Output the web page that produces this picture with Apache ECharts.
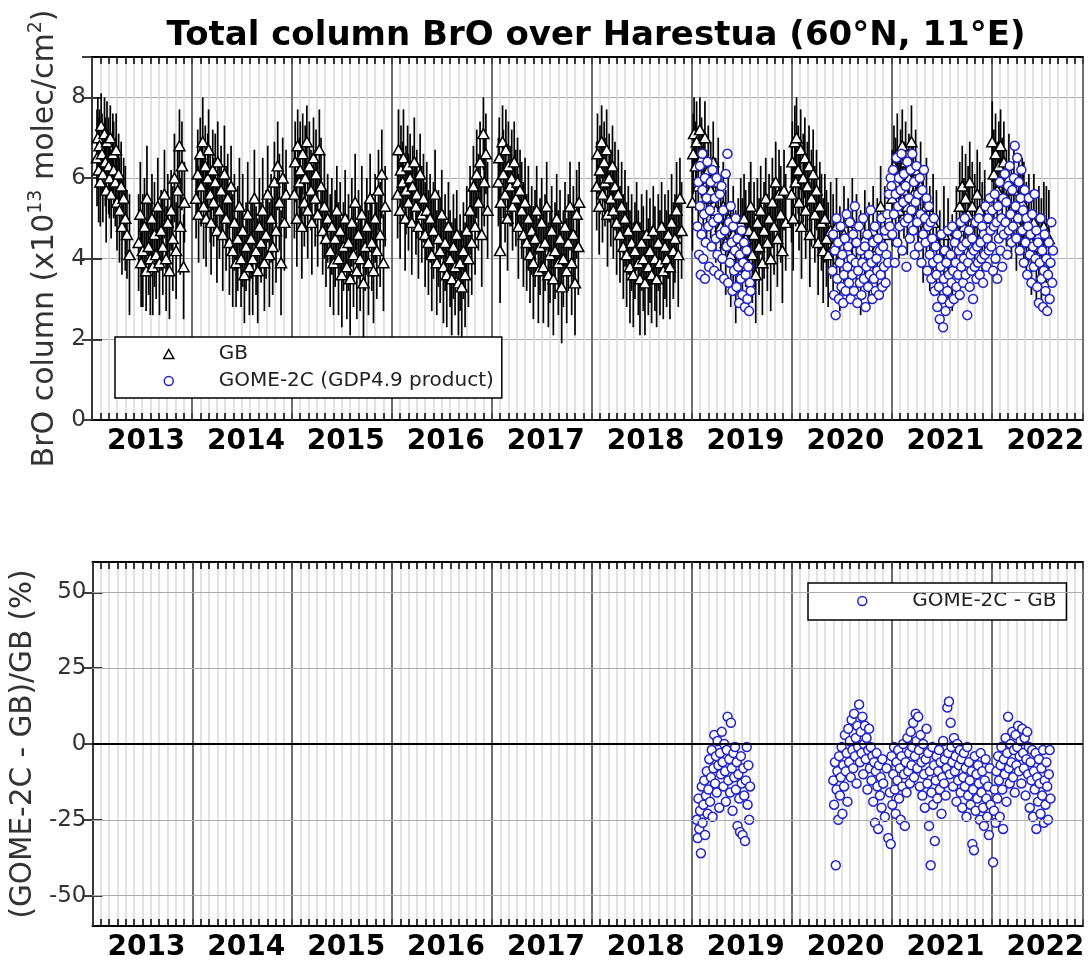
<!DOCTYPE html>
<html><head><meta charset="utf-8">
<script src="https://cdn.jsdelivr.net/npm/echarts@6/dist/echarts.min.js"></script>
<style>html,body{margin:0;padding:0;background:#fff}#c{width:1088px;height:965px}</style>
</head><body><div id="c"></div><script>
// x values: month within year (0-12); GB triplets: month, value, error
const yearLabels = [2013,2014,2015,2016,2017,2018,2019,2020,2021,2022];
const gb2013 = [0.6,6.5,1.2, 0.7,7.0,1.0, 0.8,6.2,1.3, 0.9,6.8,0.9, 1.0,5.9,1.1, 1.1,7.3,0.8, 1.2,6.6,1.0, 1.3,6.1,1.2, 1.5,7.1,0.9, 1.6,6.4,1.1, 1.7,5.7,1.3, 1.8,6.9,1.0, 2.0,6.3,1.2, 2.1,6.0,1.0, 2.2,7.0,0.8, 2.3,5.6,1.1, 2.5,6.6,1.0, 2.6,6.2,1.2, 2.8,5.9,1.1, 2.9,6.7,0.9, 3.0,5.4,1.2, 3.2,6.1,1.0, 3.3,5.2,1.3, 3.5,5.8,1.1, 3.6,4.8,1.2, 3.8,5.5,1.0, 4.0,5.0,1.3, 4.2,4.6,1.1, 4.5,4.1,1.5, 5.6,4.4,1.2, 5.8,5.1,1.3, 5.9,3.9,1.1, 6.1,4.2,1.4, 6.3,4.8,1.2, 6.5,3.7,1.0, 6.6,5.5,1.3, 6.8,4.3,1.2, 7.0,4.0,1.4, 7.2,5.0,1.1, 7.3,3.8,1.2, 7.5,4.6,1.3, 7.7,4.1,1.1, 7.9,5.3,1.2, 8.1,3.9,1.3, 8.3,4.7,1.0, 8.5,4.3,1.2, 8.7,5.6,1.1, 8.9,4.0,1.3, 9.1,4.9,1.2, 9.3,3.7,1.2, 9.5,5.2,1.0, 9.7,4.5,1.3, 9.9,6.0,1.1, 10.1,4.2,1.2, 10.3,5.7,1.0, 10.5,6.8,0.9, 10.6,4.8,1.2, 10.8,6.3,1.1, 11.0,3.8,1.3, 11.1,5.4,1.0];
const gb2014 = [0.5,5.5,1.0, 0.7,6.1,1.1, 0.8,5.1,1.2, 1.0,6.6,0.9, 1.1,5.8,1.0, 1.3,6.9,1.1, 1.4,5.3,1.3, 1.6,6.3,1.0, 1.7,5.0,1.2, 1.9,6.0,1.1, 2.0,6.7,1.0, 2.2,5.6,1.2, 2.3,4.9,1.3, 2.5,6.2,1.0, 2.6,5.4,1.1, 2.8,5.9,1.2, 3.0,4.7,1.3, 3.1,6.4,1.0, 3.3,5.2,1.2, 3.5,5.7,1.1, 3.7,4.6,1.4, 3.9,6.1,1.2, 4.1,5.0,1.3, 4.3,5.5,1.1, 4.5,4.4,1.3, 4.7,5.8,1.0, 4.9,4.2,1.4, 5.1,4.9,1.2, 5.3,3.9,1.1, 5.5,4.5,1.3, 5.7,5.3,1.2, 5.9,4.0,1.2, 6.1,4.7,1.4, 6.3,3.6,1.2, 6.5,4.3,1.1, 6.7,5.1,1.3, 6.9,3.8,1.2, 7.1,4.5,1.0, 7.3,4.0,1.4, 7.5,5.5,1.2, 7.7,4.2,1.1, 7.9,3.7,1.3, 8.1,4.8,1.2, 8.3,4.4,1.0, 8.5,5.2,1.3, 8.7,3.9,1.2, 8.9,4.6,1.1, 9.1,5.6,1.2, 9.3,4.1,1.3, 9.5,5.0,1.1, 9.7,4.3,1.2, 9.9,5.9,1.0, 10.1,4.7,1.3, 10.3,6.3,1.1, 10.5,5.4,1.2, 10.7,3.9,1.3, 10.9,6.0,1.0, 11.1,4.9,1.2, 11.3,5.6,1.1];
const gb2015 = [0.3,5.6,1.1, 0.4,6.4,1.0, 0.6,5.0,1.2, 0.7,6.8,0.9, 0.9,5.9,1.1, 1.0,6.2,1.2, 1.2,4.8,1.3, 1.3,6.6,1.0, 1.5,5.4,1.1, 1.6,6.0,1.3, 1.8,6.9,0.9, 1.9,5.2,1.2, 2.1,6.3,1.1, 2.3,5.7,1.0, 2.4,4.9,1.3, 2.6,6.5,1.0, 2.8,5.5,1.2, 2.9,6.1,1.1, 3.1,5.1,1.3, 3.3,6.7,1.0, 3.5,5.8,1.2, 3.7,4.7,1.1, 3.9,5.3,1.3, 4.1,4.5,1.2, 4.3,5.0,1.1, 4.6,4.2,1.4, 4.8,4.8,1.2, 5.0,3.9,1.3, 5.2,4.5,1.2, 5.4,5.2,1.1, 5.6,4.0,1.4, 5.8,4.7,1.2, 6.0,3.6,1.3, 6.2,4.3,1.1, 6.4,5.0,1.2, 6.6,3.8,1.3, 6.8,4.4,1.2, 7.0,3.5,1.4, 7.2,4.9,1.1, 7.4,4.1,1.3, 7.6,5.4,1.2, 7.8,3.7,1.2, 8.0,4.6,1.1, 8.2,4.0,1.3, 8.4,5.1,1.2, 8.6,3.4,1.4, 8.8,4.3,1.1, 9.0,4.8,1.2, 9.2,3.9,1.3, 9.4,5.5,1.1, 9.6,4.4,1.2, 9.8,3.7,1.3, 10.0,5.0,1.1, 10.2,4.2,1.2, 10.4,5.7,1.0, 10.6,4.6,1.3, 10.8,6.1,1.1, 11.0,3.9,1.2, 11.2,5.3,1.0];
const gb2016 = [0.7,5.6,1.1, 0.8,6.7,1.0, 1.0,5.2,1.2, 1.1,6.2,1.1, 1.3,5.9,1.0, 1.4,6.5,1.2, 1.6,5.0,1.3, 1.7,5.7,1.1, 1.9,6.3,1.0, 2.0,5.4,1.2, 2.2,6.0,1.1, 2.4,4.9,1.3, 2.5,5.8,1.0, 2.7,6.4,1.1, 2.9,5.3,1.2, 3.0,5.6,1.1, 3.2,4.8,1.3, 3.4,6.1,1.0, 3.6,5.1,1.2, 3.8,5.5,1.1, 4.0,4.6,1.3, 4.2,5.2,1.2, 4.4,4.4,1.3, 4.6,5.0,1.1, 4.8,4.1,1.4, 5.0,4.7,1.2, 5.2,5.6,1.1, 5.4,3.9,1.3, 5.6,4.5,1.2, 5.8,4.2,1.3, 6.0,5.1,1.1, 6.2,3.8,1.4, 6.4,4.4,1.2, 6.6,3.6,1.3, 6.8,4.8,1.1, 7.0,4.0,1.2, 7.2,3.5,1.4, 7.4,4.3,1.3, 7.6,3.8,1.2, 7.8,4.6,1.1, 8.0,3.4,1.3, 8.2,3.9,1.2, 8.4,3.3,1.4, 8.6,4.2,1.2, 8.8,3.6,1.3, 9.0,4.7,1.1, 9.2,4.0,1.2, 9.4,5.2,1.1, 9.6,4.4,1.3, 9.8,5.8,1.0, 10.0,4.8,1.2, 10.2,6.1,1.1, 10.4,5.4,1.2, 10.6,6.4,1.0, 10.8,4.6,1.3, 11.0,7.1,0.9, 11.1,5.9,1.1, 11.3,6.6,1.0, 11.5,5.2,1.2];
const gb2017 = [0.8,5.9,1.1, 0.9,6.5,1.0, 1.0,4.2,1.3, 1.1,5.4,1.2, 1.3,6.9,0.9, 1.4,6.1,1.1, 1.6,5.6,1.2, 1.7,6.7,1.0, 1.9,5.0,1.3, 2.0,6.3,1.1, 2.2,5.8,1.0, 2.4,6.0,1.2, 2.5,5.3,1.1, 2.7,6.4,1.0, 2.9,5.5,1.2, 3.1,5.9,1.1, 3.2,4.8,1.3, 3.4,5.7,1.0, 3.6,5.2,1.2, 3.8,4.6,1.3, 4.0,5.4,1.1, 4.2,4.4,1.2, 4.4,5.0,1.3, 4.6,4.1,1.2, 4.8,4.7,1.1, 5.0,3.9,1.4, 5.2,4.5,1.2, 5.4,5.2,1.1, 5.6,3.7,1.3, 5.8,4.3,1.2, 6.0,4.9,1.1, 6.2,3.8,1.4, 6.4,4.4,1.2, 6.6,5.3,1.1, 6.8,3.6,1.3, 7.0,4.1,1.2, 7.2,4.7,1.1, 7.4,3.5,1.4, 7.6,4.2,1.2, 7.8,5.0,1.1, 8.0,3.9,1.3, 8.2,4.5,1.2, 8.4,3.3,1.4, 8.6,4.0,1.2, 8.8,4.8,1.1, 9.0,3.7,1.3, 9.2,4.4,1.2, 9.4,5.3,1.1, 9.6,3.9,1.3, 9.8,4.6,1.2, 10.0,3.4,1.3, 10.2,5.1,1.1, 10.4,4.3,1.2, 10.5,5.4,1.0];
const gb2018 = [0.6,5.8,1.1, 0.7,6.6,1.0, 0.9,5.3,1.2, 1.0,6.2,1.1, 1.2,6.9,0.9, 1.3,5.6,1.2, 1.5,6.4,1.0, 1.6,5.9,1.1, 1.8,6.7,1.0, 1.9,5.1,1.3, 2.1,6.0,1.1, 2.3,5.5,1.2, 2.5,6.3,1.0, 2.6,5.2,1.2, 2.8,5.8,1.1, 3.0,4.9,1.3, 3.2,5.6,1.1, 3.4,4.6,1.2, 3.6,5.3,1.1, 3.8,4.3,1.3, 4.0,5.0,1.2, 4.2,4.1,1.3, 4.4,4.7,1.1, 4.6,3.8,1.4, 4.8,4.4,1.2, 5.0,3.6,1.3, 5.2,4.2,1.2, 5.4,4.8,1.1, 5.6,3.9,1.3, 5.8,3.5,1.4, 6.0,4.4,1.2, 6.2,4.0,1.3, 6.4,3.4,1.3, 6.6,4.6,1.1, 6.8,3.8,1.2, 7.0,4.2,1.3, 7.2,3.6,1.2, 7.4,4.7,1.1, 7.6,4.0,1.3, 7.8,3.5,1.2, 8.0,4.4,1.2, 8.2,3.9,1.3, 8.4,4.8,1.1, 8.6,3.7,1.2, 8.8,4.3,1.3, 9.0,4.0,1.2, 9.2,4.6,1.1, 9.4,3.8,1.3, 9.6,4.9,1.2, 9.8,4.2,1.2, 10.0,4.5,1.1, 10.2,5.2,1.2, 10.4,4.1,1.3, 10.6,5.5,1.0, 10.8,4.7,1.2];
const gb2019 = [0.1,5.4,1.2, 0.2,6.6,1.0, 0.3,7.1,0.9, 0.5,6.3,1.1, 0.6,6.9,1.0, 0.8,5.8,1.2, 1.0,7.2,0.8, 1.2,6.5,1.0, 1.4,6.0,1.2, 1.6,7.0,0.9, 1.8,5.5,1.2, 2.0,6.2,1.1, 2.3,5.7,1.2, 2.6,6.4,1.0, 2.9,5.2,1.3, 3.2,5.9,1.1, 3.5,4.8,1.2, 3.8,5.3,1.1, 4.1,4.4,1.3, 4.4,5.0,1.2, 4.7,4.1,1.3, 5.0,4.6,1.2, 5.3,3.8,1.4, 5.6,4.3,1.2, 5.9,4.9,1.1, 6.1,4.2,1.3, 6.3,5.0,1.1, 6.5,4.5,1.2, 6.7,3.9,1.3, 6.9,4.7,1.2, 7.1,5.3,1.1, 7.3,4.1,1.2, 7.5,4.6,1.3, 7.7,3.6,1.2, 7.9,4.9,1.1, 8.1,4.3,1.2, 8.3,5.2,1.1, 8.5,3.9,1.3, 8.7,4.7,1.2, 8.9,5.5,1.0, 9.1,4.4,1.2, 9.3,5.0,1.1, 9.5,4.0,1.3, 9.7,5.4,1.1, 9.9,4.8,1.2, 10.1,5.9,1.0, 10.3,4.5,1.2, 10.5,5.6,1.1, 10.7,5.1,1.2, 10.9,4.2,1.3, 11.1,5.7,1.0, 11.3,4.9,1.2];
const gb2020 = [0.0,5.6,1.2, 0.1,6.4,1.0, 0.2,5.0,1.3, 0.4,6.9,0.9, 0.5,5.9,1.1, 0.6,7.0,1.0, 0.8,6.2,1.1, 0.9,5.4,1.2, 1.1,6.7,1.0, 1.2,4.8,1.3, 1.4,6.0,1.1, 1.6,6.5,1.0, 1.7,5.2,1.2, 1.9,5.8,1.1, 2.1,6.3,1.0, 2.2,4.6,1.3, 2.4,5.5,1.2, 2.6,6.1,1.1, 2.8,5.1,1.2, 3.0,5.7,1.0, 3.2,4.4,1.3, 3.4,5.3,1.1, 3.6,4.9,1.2, 3.8,4.2,1.3, 4.0,5.0,1.1, 4.2,4.5,1.2, 4.4,4.1,1.3, 4.7,4.7,1.2, 5.0,4.3,1.3, 5.4,4.8,1.2, 5.8,4.0,1.3, 6.3,4.6,1.2, 6.8,4.2,1.3, 7.3,4.9,1.1, 7.8,4.4,1.2, 8.3,3.9,1.3, 8.8,4.5,1.2, 9.3,4.1,1.3, 9.8,4.7,1.1, 10.3,4.3,1.2, 10.7,5.3,1.0, 11.2,4.6,1.2];
const gb2021 = [0.1,5.5,1.2, 0.3,6.3,1.0, 0.5,5.9,1.1, 0.7,6.6,1.0, 0.9,5.2,1.2, 1.1,6.1,1.1, 1.3,6.8,0.9, 1.5,5.7,1.2, 1.7,6.4,1.0, 1.9,5.3,1.2, 2.1,6.0,1.1, 2.4,6.9,0.9, 2.6,5.6,1.2, 2.9,6.2,1.0, 3.2,5.1,1.2, 3.5,5.8,1.1, 3.8,4.7,1.3, 4.2,5.3,1.2, 4.6,4.5,1.3, 5.0,4.9,1.2, 5.4,4.4,1.3, 5.8,4.0,1.2, 6.3,4.6,1.2, 6.8,4.2,1.3, 7.3,3.9,1.2, 7.8,4.7,1.1, 8.2,5.3,1.1, 8.5,5.8,1.0, 8.7,4.8,1.2, 8.9,5.5,1.1, 9.2,5.1,1.2, 9.4,5.9,1.0, 9.7,5.3,1.1, 10.0,4.9,1.2, 10.3,5.6,1.1, 10.6,5.2,1.2, 10.9,4.6,1.3, 11.2,5.0,1.2];
const gb2022 = [0.1,6.9,1.0, 0.3,6.1,1.1, 0.5,6.6,1.0, 0.7,5.7,1.2, 0.9,6.3,1.1, 1.1,6.8,0.9, 1.3,5.9,1.1, 1.5,6.4,1.0, 1.8,5.5,1.2, 2.1,6.0,1.1, 2.4,5.2,1.2, 2.7,5.7,1.1, 3.0,4.9,1.2, 3.3,5.3,1.1, 3.5,5.1,1.0, 3.7,5.4,1.1, 3.9,5.2,1.2, 4.2,4.7,1.2, 4.5,5.0,1.1, 4.8,4.4,1.3, 5.1,4.9,1.2, 5.4,4.3,1.3, 5.7,4.6,1.2, 6.0,4.2,1.3, 6.3,4.8,1.1, 6.6,4.6,1.2, 6.9,4.5,1.2];
// GOME-2C columns: month, value
const g2c2019 = [0.7,4.8, 0.8,5.9, 0.9,4.1, 1.0,5.3, 1.0,6.3, 1.1,3.6, 1.2,4.6, 1.3,5.7, 1.3,6.6, 1.4,4.0, 1.5,5.1, 1.6,6.0, 1.6,3.5, 1.7,4.4, 1.8,5.5, 1.9,6.4, 2.0,4.8, 2.1,3.8, 2.2,5.2, 2.3,5.9, 2.4,4.3, 2.5,6.2, 2.6,4.9, 2.7,3.7, 2.8,5.5, 2.9,4.5, 3.0,6.0, 3.1,4.1, 3.2,5.0, 3.3,3.6, 3.4,5.6, 3.5,4.6, 3.6,5.8, 3.7,4.0, 3.8,5.2, 3.9,3.5, 4.0,4.7, 4.1,6.1, 4.2,4.3, 4.3,6.6, 4.4,3.4, 4.5,4.9, 4.6,3.9, 4.7,5.3, 4.8,4.4, 4.9,3.2, 5.0,4.8, 5.1,3.7, 5.2,4.2, 5.3,5.0, 5.4,3.3, 5.5,4.5, 5.6,3.8, 5.7,2.9, 5.8,4.1, 5.9,3.5, 6.0,4.7, 6.1,3.1, 6.2,3.9, 6.3,4.4, 6.4,2.8, 6.5,3.6, 6.6,4.2, 6.7,3.0, 6.8,3.8, 6.9,2.7, 7.0,3.4, 7.1,3.2];
const g2c2020 = [4.9,3.7, 5.0,4.6, 5.1,3.1, 5.2,4.2, 5.3,2.6, 5.4,5.0, 5.5,3.5, 5.6,4.4, 5.7,3.0, 5.8,3.9, 5.9,4.8, 6.0,3.3, 6.1,4.1, 6.2,2.9, 6.3,3.6, 6.4,4.5, 6.5,3.2, 6.6,5.1, 6.7,3.8, 6.8,4.3, 6.9,3.4, 7.0,4.9, 7.1,3.0, 7.2,4.0, 7.3,3.6, 7.4,4.6, 7.5,3.2, 7.6,5.3, 7.7,3.9, 7.8,4.4, 7.9,2.9, 8.0,3.7, 8.1,4.8, 8.2,3.4, 8.3,4.2, 8.4,3.1, 8.5,3.9, 8.6,5.0, 8.7,3.5, 8.8,4.3, 8.9,2.8, 9.0,3.8, 9.1,4.6, 9.2,3.3, 9.3,4.1, 9.4,3.6, 9.5,5.2, 9.6,3.9, 9.7,3.0, 9.8,4.4, 9.9,3.5, 10.0,4.8, 10.1,3.2, 10.2,4.0, 10.3,3.7, 10.4,4.5, 10.5,3.1, 10.6,4.2, 10.7,3.6, 10.8,5.0, 10.9,3.3, 11.0,4.3, 11.1,3.8, 11.2,4.7, 11.3,3.4, 11.4,4.1, 11.5,5.1, 11.6,3.9, 11.7,5.6, 11.8,4.8, 11.9,6.0];
const g2c2021 = [0.0,5.8, 0.1,4.6, 0.2,6.2, 0.3,5.1, 0.4,3.9, 0.5,5.6, 0.6,6.5, 0.7,4.4, 0.8,5.3, 0.9,6.0, 1.0,4.8, 1.1,5.7, 1.2,6.6, 1.3,4.2, 1.4,5.4, 1.5,6.1, 1.6,4.9, 1.7,5.8, 1.8,3.8, 1.9,6.4, 2.0,5.0, 2.1,5.5, 2.2,4.5, 2.3,6.2, 2.4,5.2, 2.5,6.6, 2.6,4.7, 2.7,5.9, 2.8,4.1, 2.9,5.4, 3.0,6.3, 3.1,4.9, 3.2,5.6, 3.3,4.3, 3.4,6.0, 3.5,5.1, 3.6,3.9, 3.7,5.7, 3.8,4.6, 3.9,6.2, 4.0,5.0, 4.1,4.4, 4.2,5.5, 4.3,3.7, 4.4,4.8, 4.5,5.3, 4.6,4.1, 4.7,4.9, 4.8,3.5, 4.9,4.5, 5.0,3.9, 5.1,5.0, 5.2,3.2, 5.3,4.3, 5.4,3.6, 5.5,2.8, 5.6,4.0, 5.7,3.3, 5.8,2.5, 5.9,3.8, 6.0,4.6, 6.1,3.0, 6.2,2.3, 6.3,3.5, 6.4,4.2, 6.5,2.7, 6.6,3.9, 6.7,3.2, 6.8,4.7, 6.9,3.6, 7.0,2.9, 7.1,4.1, 7.2,3.4, 7.3,4.8, 7.4,3.7, 7.5,3.0, 7.6,4.4, 7.7,3.9, 7.8,3.3, 7.9,4.6, 8.0,3.6, 8.1,4.2, 8.2,3.1, 8.3,4.9, 8.4,3.8, 8.5,4.3, 8.6,3.4, 8.7,4.0, 8.8,5.0, 8.9,3.6, 9.0,4.4, 9.1,2.6, 9.2,3.9, 9.3,4.7, 9.4,3.3, 9.5,4.1, 9.6,3.7, 9.7,4.5, 9.8,3.0, 9.9,4.2, 10.0,3.8, 10.1,4.9, 10.2,3.5, 10.3,4.3, 10.4,3.9, 10.5,5.0, 10.6,3.6, 10.7,4.4, 10.8,4.0, 10.9,4.8, 11.0,3.4, 11.1,4.6, 11.2,4.1, 11.3,5.3, 11.4,3.8, 11.5,4.5, 11.6,5.0, 11.7,4.2, 11.8,5.5, 11.9,4.7];
const g2c2022 = [0.0,4.3, 0.1,5.2, 0.2,3.7, 0.3,4.8, 0.4,5.6, 0.5,4.0, 0.6,4.9, 0.7,3.5, 0.8,5.3, 0.9,4.5, 1.0,5.9, 1.1,4.2, 1.2,5.0, 1.3,3.8, 1.4,5.5, 1.5,4.6, 1.6,6.1, 1.7,4.9, 1.8,5.4, 1.9,4.1, 2.0,5.8, 2.1,4.7, 2.2,6.3, 2.3,5.1, 2.4,4.4, 2.5,5.7, 2.6,4.8, 2.7,6.0, 2.8,6.8, 2.9,5.3, 3.0,4.5, 3.1,6.5, 3.2,5.0, 3.3,5.9, 3.4,4.2, 3.5,5.5, 3.6,6.2, 3.7,4.7, 3.8,5.2, 3.9,3.9, 4.0,5.7, 4.1,4.4, 4.2,5.0, 4.3,3.6, 4.4,4.8, 4.5,5.5, 4.6,4.1, 4.7,4.6, 4.8,3.4, 4.9,5.1, 5.0,4.3, 5.1,3.8, 5.2,5.6, 5.3,4.0, 5.4,4.7, 5.5,3.3, 5.6,4.4, 5.7,2.9, 5.8,3.9, 5.9,5.0, 6.0,3.5, 6.1,4.2, 6.2,2.8, 6.3,3.7, 6.4,4.6, 6.5,3.2, 6.6,4.0, 6.7,2.7, 6.8,3.6, 6.9,4.4, 7.0,3.0, 7.1,3.9, 7.2,4.9, 7.3,3.4, 7.4,4.2];
// relative differences (%): month, value
const diff2019 = [0.6,-25, 0.7,-31, 0.8,-18, 0.9,-28, 1.0,-22, 1.1,-36, 1.2,-14, 1.3,-26, 1.4,-20, 1.5,-12, 1.6,-30, 1.7,-17, 1.8,-9, 1.9,-23, 2.0,-15, 2.1,-5, 2.2,-19, 2.3,-11, 2.4,-2, 2.5,-24, 2.6,-8, 2.7,3, 2.8,-13, 2.9,-4, 3.0,-16, 3.1,1, 3.2,-7, 3.3,-21, 3.4,-3, 3.5,-10, 3.6,4, 3.7,-6, 3.8,-14, 3.9,0, 4.0,-9, 4.1,-19, 4.2,-2, 4.3,9, 4.4,-12, 4.5,-5, 4.6,-16, 4.7,7, 4.8,-8, 4.9,-22, 5.0,-3, 5.1,-11, 5.2,-1, 5.3,-15, 5.4,-6, 5.5,-27, 5.6,-10, 5.7,-18, 5.8,-29, 5.9,-4, 6.0,-13, 6.1,-30, 6.2,-8, 6.3,-17, 6.4,-32, 6.5,-12, 6.6,-1, 6.7,-20, 6.8,-7, 6.9,-25, 7.0,-14];
const diff2020 = [5.0,-12, 5.1,-20, 5.2,-6, 5.3,-40, 5.4,-15, 5.5,-9, 5.6,-25, 5.7,-4, 5.8,-17, 5.9,-11, 6.0,-1, 6.1,-23, 6.2,-7, 6.3,-14, 6.4,3, 6.5,-9, 6.6,-3, 6.7,-19, 6.8,5, 6.9,-6, 7.0,1, 7.1,-11, 7.2,8, 7.3,-2, 7.4,-8, 7.5,10, 7.6,-4, 7.7,2, 7.8,-13, 7.9,6, 8.0,-1, 8.1,13, 8.2,-6, 8.3,4, 8.4,-3, 8.5,9, 8.6,-10, 8.7,0, 8.8,6, 8.9,-5, 9.0,2, 9.1,-15, 9.2,-2, 9.3,5, 9.4,-8, 9.5,-1, 9.6,-12, 9.7,-4, 9.8,-19, 9.9,-6, 10.0,-26, 10.1,-9, 10.2,-3, 10.3,-14, 10.4,-28, 10.5,-7, 10.6,-17, 10.7,-11, 10.8,-21, 10.9,-5, 11.0,-13, 11.2,-24, 11.4,-8, 11.6,-31, 11.8,-16, 11.9,-33];
const diff2021 = [0.0,-4, 0.1,-20, 0.2,-10, 0.3,-1, 0.4,-15, 0.5,-23, 0.6,-6, 0.7,-12, 0.8,-2, 0.9,-18, 1.0,-8, 1.1,-25, 1.2,-4, 1.3,-14, 1.4,0, 1.5,-10, 1.6,-27, 1.7,-6, 1.8,-16, 1.9,2, 2.0,-9, 2.1,-3, 2.2,-13, 2.3,4, 2.4,-7, 2.5,-1, 2.6,7, 2.7,-11, 2.8,-4, 2.9,10, 3.0,1, 3.1,-8, 3.2,9, 3.3,-2, 3.4,-14, 3.5,3, 3.6,-6, 3.7,-17, 3.8,0, 3.9,-10, 4.0,-21, 4.1,-5, 4.2,5, 4.3,-13, 4.4,-3, 4.5,-27, 4.6,-9, 4.7,-40, 4.8,-16, 4.9,-1, 5.0,-20, 5.1,-7, 5.2,-32, 5.3,-12, 5.4,-4, 5.5,-18, 5.6,-9, 5.7,-2, 5.8,-15, 5.9,-6, 6.0,-23, 6.1,-11, 6.2,1, 6.3,-13, 6.4,-5, 6.5,-17, 6.6,-8, 6.7,12, 6.8,-3, 6.9,14, 7.0,-10, 7.1,7, 7.2,-1, 7.3,-6, 7.4,-14, 7.5,2, 7.6,-9, 7.7,-4, 7.8,-19, 7.9,0, 8.0,-12, 8.1,-7, 8.2,-2, 8.3,-16, 8.4,-5, 8.5,-21, 8.6,-11, 8.7,-3, 8.8,-14, 8.9,-8, 9.0,-24, 9.1,-1, 9.2,-17, 9.3,-6, 9.4,-12, 9.5,-20, 9.6,-9, 9.7,-33, 9.8,-15, 9.9,-35, 10.0,-4, 10.1,-22, 10.2,-10, 10.3,-18, 10.4,-7, 10.5,-13, 10.6,-25, 10.7,-3, 10.8,-16, 10.9,-9, 11.0,-21, 11.1,-27, 11.2,-12, 11.3,-5, 11.4,-18, 11.5,-24, 11.6,-14, 11.7,-30, 11.8,-8, 11.9,-20];
const diff2022 = [0.2,-39, 0.3,-22, 0.4,-15, 0.5,-26, 0.6,-9, 0.7,-18, 0.8,-4, 0.9,-12, 1.0,-24, 1.1,-7, 1.2,-1, 1.3,-15, 1.4,-28, 1.5,-5, 1.6,-10, 1.7,2, 1.8,-19, 1.9,-3, 2.0,9, 2.1,-8, 2.2,-13, 2.3,0, 2.4,-6, 2.5,4, 2.6,-11, 2.7,-2, 2.8,-16, 2.9,3, 3.0,-7, 3.1,-1, 3.2,6, 3.3,-9, 3.4,-4, 3.5,1, 3.6,-13, 3.7,5, 3.8,-3, 3.9,-8, 4.0,2, 4.1,-17, 4.2,-5, 4.3,4, 4.4,-10, 4.5,-1, 4.6,-21, 4.7,-6, 4.8,-12, 4.9,-2, 5.0,-24, 5.1,-9, 5.2,-15, 5.3,-3, 5.4,-28, 5.5,-11, 5.6,-19, 5.7,-5, 5.8,-13, 5.9,-23, 6.0,-8, 6.1,-17, 6.2,-2, 6.3,-26, 6.4,-12, 6.5,-20, 6.6,-6, 6.7,-14, 6.8,-25, 6.9,-10, 7.0,-2, 7.1,-18];

const FONT = 'DejaVu Sans';
const BLUE = '#2323cc';
const X_MAX = 119; // months since Jan 2013 (Dec 2022)

function unpack(list, year, stride) {
  const out = [];
  const base = (year - 2013) * 12;
  for (let i = 0; i < list.length; i += stride) {
    const row = [base + list[i]];
    for (let k = 1; k < stride; k++) row.push(list[i + k]);
    out.push(row);
  }
  return out;
}
const gbData = [].concat(
  unpack(gb2013, 2013, 3), unpack(gb2014, 2014, 3), unpack(gb2015, 2015, 3), unpack(gb2016, 2016, 3),
  unpack(gb2017, 2017, 3), unpack(gb2018, 2018, 3), unpack(gb2019, 2019, 3), unpack(gb2020, 2020, 3),
  unpack(gb2021, 2021, 3), unpack(gb2022, 2022, 3));
const g2cData = [].concat(unpack(g2c2019, 2019, 2), unpack(g2c2020, 2020, 2), unpack(g2c2021, 2021, 2), unpack(g2c2022, 2022, 2));
const diffData = [].concat(unpack(diff2019, 2019, 2), unpack(diff2020, 2020, 2), unpack(diff2021, 2021, 2), unpack(diff2022, 2022, 2));

function monthAxis(gridIndex, withLabels) {
  return {
    type: 'value', gridIndex, position: 'bottom', min: 0, max: X_MAX, interval: 1,
    axisLine: { show: true, onZero: false, lineStyle: { color: '#000', width: 2 } },
    axisTick: { show: true, inside: true, length: 7, lineStyle: { color: '#000', width: 1.5 } },
    splitLine: { show: true, lineStyle: { color: '#d9d9d9', width: 1.5 } },
    axisLabel: {
      show: withLabels, margin: 8, padding: [0, 0, 0, 8],
      fontFamily: FONT, fontSize: 28, fontWeight: 'bold', color: '#000',
      formatter: function (v) {
        const m = Math.round(v);
        return (m % 12 === 6) ? String(yearLabels[(m - 6) / 12]) : '';
      }
    }
  };
}
function yearAxis(gridIndex) {
  return {
    type: 'value', gridIndex, position: 'bottom', min: 0, max: X_MAX, interval: 12, z: 1,
    axisLine: { show: false, onZero: false }, axisTick: { show: false }, axisLabel: { show: false },
    splitLine: { show: true, lineStyle: { color: '#4a4a4a', width: 1.5 } }
  };
}
function topAxis(gridIndex) {
  return {
    type: 'value', gridIndex, position: 'top', min: 0, max: X_MAX, interval: 1,
    axisLine: { show: true, onZero: false, lineStyle: { color: '#000', width: 2 } },
    axisTick: { show: true, inside: true, length: 7, lineStyle: { color: '#000', width: 1.5 } },
    splitLine: { show: false }, axisLabel: { show: false }
  };
}

const option = {
  backgroundColor: '#fff',
  animation: false,
  title: {
    text: 'Total column BrO over Harestua (60°N, 11°E)',
    left: 591, top: 14, textAlign: 'center',
    textStyle: { fontFamily: FONT, fontSize: 34, fontWeight: 'bold', color: '#000' }
  },
  grid: [
    { left: 92, right: 5, top: 57, height: 363 },
    { left: 92, right: 5, top: 562, height: 364 }
  ],
  legend: [
    {
      orient: 'vertical', left: 115, top: 337, padding: [6, 8, 6, 48], itemGap: 5,
      itemWidth: 90, itemHeight: 9, backgroundColor: '#fff', borderColor: '#000', borderWidth: 1.5,
      textStyle: { fontFamily: FONT, fontSize: 20, color: '#222', lineHeight: 22 },
      data: [
        { name: 'GB', icon: 'path://M5,0 L10,9 L0,9 Z', itemStyle: { color: '#fff', borderColor: '#000', borderWidth: 1.5 } },
        { name: 'GOME-2C (GDP4.9 product)', icon: 'circle', itemStyle: { color: '#fff', borderColor: BLUE, borderWidth: 1.5 } }
      ]
    },
    {
      orient: 'vertical', left: 808, top: 583, padding: [7, 10, 8, 49], itemGap: 5,
      itemWidth: 90, itemHeight: 9, backgroundColor: '#fff', borderColor: '#000', borderWidth: 1.5,
      textStyle: { fontFamily: FONT, fontSize: 20, color: '#222', lineHeight: 22 },
      data: [
        { name: 'GOME-2C - GB', icon: 'circle', itemStyle: { color: '#fff', borderColor: BLUE, borderWidth: 1.5 } }
      ]
    }
  ],
  xAxis: [
    monthAxis(0, true), yearAxis(0), topAxis(0),
    monthAxis(1, true), yearAxis(1), topAxis(1)
  ],
  yAxis: [
    {
      type: 'value', gridIndex: 0, position: 'left', min: 0, max: 9, interval: 2,
      name: '{a|BrO column (x10}{s|13}{a| molec/cm}{s|2}{a|)}',
      nameLocation: 'middle', nameGap: 24,
      nameTextStyle: {
        rich: {
          a: { fontFamily: FONT, fontSize: 30, color: '#333', lineHeight: 38, verticalAlign: 'middle' },
          s: { fontFamily: FONT, fontSize: 19, color: '#333', verticalAlign: 'top' }
        }
      },
      axisLine: { show: true, lineStyle: { color: '#000', width: 2 } },
      axisTick: { show: true, inside: true, length: 10, lineStyle: { color: '#000', width: 1.5 } },
      splitLine: { show: true, lineStyle: { color: '#ababab', width: 1.2 } },
      axisLabel: {
        margin: 6, fontFamily: FONT, fontSize: 23, color: '#333',
        formatter: function (v) { return (v % 2 === 0) ? String(v) : ''; }
      }
    },
    {
      type: 'value', gridIndex: 0, position: 'right', min: 0, max: 9, interval: 2,
      axisLine: { show: true, lineStyle: { color: '#000', width: 2 } },
      axisTick: { show: true, inside: true, length: 10, lineStyle: { color: '#000', width: 1.5 } },
      splitLine: { show: false }, axisLabel: { show: false }
    },
    {
      type: 'value', gridIndex: 1, position: 'left', min: -60, max: 60,
      name: '(GOME-2C - GB)/GB (%)', nameLocation: 'middle', nameGap: 52,
      nameTextStyle: { fontFamily: FONT, fontSize: 29.5, color: '#333' },
      axisLine: { show: true, lineStyle: { color: '#000', width: 2 } },
      axisTick: { show: true, inside: true, length: 10, customValues: [-50, -25, 0, 25, 50], lineStyle: { color: '#000', width: 1.5 } },
      splitLine: { show: false },
      axisLabel: { margin: 6, fontFamily: FONT, fontSize: 23, color: '#333', customValues: [-50, -25, 0, 25, 50] }
    },
    {
      type: 'value', gridIndex: 1, position: 'right', min: -60, max: 60,
      axisLine: { show: true, lineStyle: { color: '#000', width: 2 } },
      axisTick: { show: true, inside: true, length: 10, customValues: [-50, -25, 0, 25, 50], lineStyle: { color: '#000', width: 1.5 } },
      splitLine: { show: false }, axisLabel: { show: false }
    }
  ],
  series: [
    {
      name: 'GB error', type: 'custom', xAxisIndex: 0, yAxisIndex: 0, z: 2, silent: true,
      data: gbData,
      encode: { x: 0, y: 1 },
      renderItem: function (params, api) {
        const x = api.value(0), v = api.value(1), e = api.value(2);
        const p1 = api.coord([x, v - e]);
        const p2 = api.coord([x, v + e]);
        return { type: 'line', shape: { x1: p1[0], y1: p1[1], x2: p2[0], y2: p2[1] }, style: { stroke: '#000', lineWidth: 1.7 } };
      }
    },
    {
      name: 'GB', type: 'scatter', xAxisIndex: 0, yAxisIndex: 0, z: 3,
      symbol: 'triangle', symbolSize: [11, 10],
      itemStyle: { color: '#fff', borderColor: '#000', borderWidth: 1.5, opacity: 1 },
      data: gbData.map(function (d) { return [d[0], d[1]]; })
    },
    {
      name: 'GOME-2C (GDP4.9 product)', type: 'scatter', xAxisIndex: 0, yAxisIndex: 0, z: 4,
      symbol: 'circle', symbolSize: 9,
      itemStyle: { color: '#fff', borderColor: BLUE, borderWidth: 1.5, opacity: 1 },
      data: g2cData
    },
    {
      name: 'grid lines', type: 'line', xAxisIndex: 3, yAxisIndex: 2, data: [], silent: true, z: 1,
      markLine: {
        silent: true, symbol: 'none', label: { show: false }, animation: false,
        data: [
          { yAxis: -50, lineStyle: { color: '#ababab', width: 1.2, type: 'solid' } },
          { yAxis: -25, lineStyle: { color: '#ababab', width: 1.2, type: 'solid' } },
          { yAxis: 25, lineStyle: { color: '#ababab', width: 1.2, type: 'solid' } },
          { yAxis: 50, lineStyle: { color: '#ababab', width: 1.2, type: 'solid' } },
          { yAxis: 0, lineStyle: { color: '#000', width: 2, type: 'solid' } }
        ]
      }
    },
    {
      name: 'GOME-2C - GB', type: 'scatter', xAxisIndex: 3, yAxisIndex: 2, z: 4,
      symbol: 'circle', symbolSize: 9,
      itemStyle: { color: '#fff', borderColor: BLUE, borderWidth: 1.5, opacity: 1 },
      data: diffData
    }
  ]
};
const chart = echarts.init(document.getElementById('c'), null, { renderer: 'canvas' });
chart.setOption(option);
</script></body></html>
